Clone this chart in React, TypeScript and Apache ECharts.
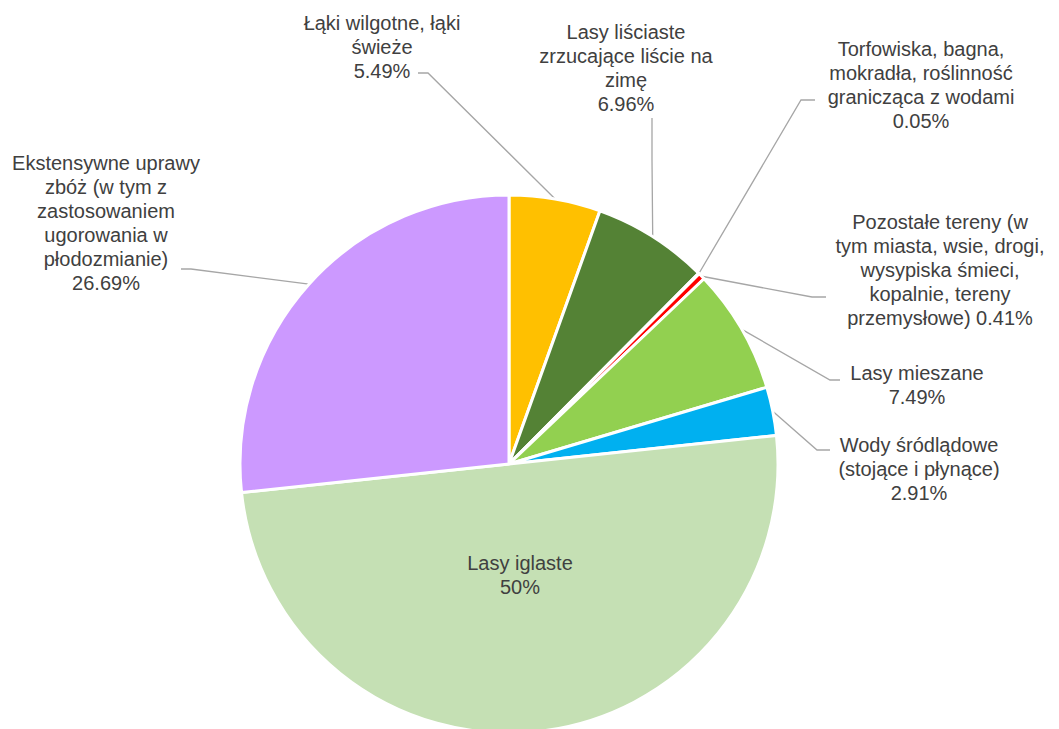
import React, { useEffect, useRef } from 'react';
import * as echarts from 'echarts';

// Category names (line breaks as they appear in the chart)
const categories: string[] = [
  'Łąki wilgotne, łąki\nświeże',
  'Lasy liściaste\nzrzucające liście na\nzimę',
  'Torfowiska, bagna,\nmokradła, roślinność\ngranicząca z wodami',
  'Pozostałe tereny (w\ntym miasta, wsie, drogi,\nwysypiska śmieci,\nkopalnie, tereny\nprzemysłowe)',
  'Lasy mieszane',
  'Wody śródlądowe\n(stojące i płynące)',
  'Lasy iglaste',
  'Ekstensywne uprawy\nzbóż (w tym z\nzastosowaniem\nugorowania w\npłodozmianie)',
];

// Shares in percent
const values: number[] = [5.49, 6.96, 0.05, 0.41, 7.49, 2.91, 50, 26.69];

const colors: string[] = [
  '#FFC000', '#548235', '#7F6000', '#FF0000', '#92D050', '#00B0F0', '#C5E0B4', '#CC99FF',
];

// Label layout (block centre, leader-line elbow and end); null elbow = inside label
const LABEL_LAYOUT: { x: number; y: number; sep: string; elbow: number[] | null; end: number[] | null }[] = [
  { x: 382, y: 47, sep: '\n', elbow: [428, 73], end: [418, 73] },
  { x: 626, y: 68, sep: '\n', elbow: [652, 160], end: [652, 118] },
  { x: 921, y: 85, sep: '\n', elbow: [801, 100], end: [815, 100] },
  { x: 940, y: 270, sep: ' ', elbow: [812, 297], end: [826, 297] },
  { x: 917, y: 385, sep: '\n', elbow: [830, 380], end: [840, 380] },
  { x: 919, y: 469, sep: '\n', elbow: [817, 450], end: [830, 450] },
  { x: 520, y: 575, sep: '\n', elbow: null, end: null },
  { x: 106, y: 223, sep: '\n', elbow: [191, 269], end: [181, 269] },
];

const CENTER = [509, 464];
const RADIUS = 269;

export default function App() {
  const ref = useRef<HTMLDivElement>(null);

  useEffect(() => {
    if (!ref.current) return;
    const chart = echarts.init(ref.current, undefined, { renderer: 'svg' });
    const total = values.reduce((a, b) => a + b, 0);
    const midAngles: number[] = [];
    let acc = 0;
    values.forEach((v) => {
      midAngles.push(((acc + v / 2) / total) * Math.PI * 2);
      acc += v;
    });

    const data = categories.map((name, i) => {
      const inside = LABEL_LAYOUT[i].elbow === null;
      return {
        name,
        value: values[i],
        itemStyle: { color: colors[i] },
        label: inside ? { position: 'inside' } : undefined,
        labelLine: inside ? { show: false } : undefined,
      };
    });

    chart.setOption({
      animation: false,
      series: [
        {
          type: 'pie',
          center: CENTER,
          radius: RADIUS,
          startAngle: 90,
          clockwise: true,
          avoidLabelOverlap: false,
          data,
          itemStyle: { borderColor: '#ffffff', borderWidth: 3 },
          label: {
            show: true,
            position: 'outside',
            color: '#404040',
            fontSize: 20,
            lineHeight: 24,
            fontFamily: 'Liberation Sans, Arial, sans-serif',
            align: 'center',
            formatter: (p: any) => `${p.name}${LABEL_LAYOUT[p.dataIndex].sep}${p.value}%`,
          },
          labelLine: {
            show: true,
            lineStyle: { color: '#A6A6A6', width: 1.3 },
          },
          labelLayout: (params: any) => {
            const i = params.dataIndex;
            const L = LABEL_LAYOUT[i];
            const out: any = { x: L.x, y: L.y, align: 'center', verticalAlign: 'middle' };
            if (L.elbow && L.end) {
              const a = midAngles[i];
              const start = [CENTER[0] + RADIUS * Math.sin(a), CENTER[1] - RADIUS * Math.cos(a)];
              out.labelLinePoints = [start, L.elbow, L.end];
            }
            return out;
          },
        },
      ],
    });
    return () => chart.dispose();
  }, []);

  return (
    <div
      ref={ref}
      style={{ position: 'fixed', left: 0, top: 0, width: 1059, height: 729, background: '#ffffff' }}
    />
  );
}
